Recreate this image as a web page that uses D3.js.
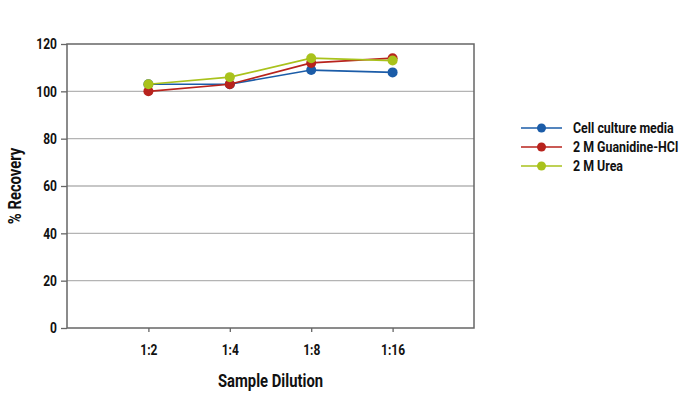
<html>
<script src='https://d3js.org/d3.v7.min.js'></script>
<style>
body {margin:0; background:#fff;}
text {font-family: Roboto, "DejaVu Sans", sans-serif; font-weight: bold; fill: #111;}
</style>
<body onload='init()'>
<svg width=694 height=395></svg>
<script>
var dilutions = ["1:2", "1:4", "1:8", "1:16"];
var cellMedia = [103, 103, 109, 108];
var guanidine = [100, 103, 112, 114];
var urea = [103, 106, 114, 113];
var yTicks = [0, 20, 40, 60, 80, 100, 120];

// squeeze text horizontally to mimic a condensed face
var squeeze = 0.8;
function condense(sel) {
	sel.each(function() {
		var t = d3.select(this);
		var x = +(t.attr("x") || 0);
		t.attr("x", x / squeeze).attr("transform", (t.attr("transform") || "") + " scale(" + squeeze + ",1)");
	});
}

function init() {
	var svg = d3.select("svg");
	var left = 67, right = 474, top = 44, bottom = 328;

	var series = [
		{name: "Cell culture media", values: cellMedia, color: "#1b5ca8"},
		{name: "2 M Guanidine-HCl", values: guanidine, color: "#b8231d"},
		{name: "2 M Urea", values: urea, color: "#a9c21c"}
	];

	var x = d3.scalePoint().domain(dilutions).range([left, right]).padding(1);
	var y = d3.scaleLinear().domain([0, 120]).range([bottom, top]);

	// gridlines
	svg.append("g").selectAll("line").data(yTicks.slice(1, -1)).enter().append("line")
		.attr("x1", left).attr("x2", right)
		.attr("y1", function(d){return y(d);}).attr("y2", function(d){return y(d);})
		.attr("stroke", "#b4b4b4").attr("stroke-width", 1.3);

	// frame
	svg.append("rect").attr("x", left).attr("y", top).attr("width", right - left).attr("height", bottom - top)
		.attr("fill", "none").attr("stroke", "#666").attr("stroke-width", 1.5);

	var yAxis = svg.append("g").attr("transform", "translate(" + left + ",0)")
		.call(d3.axisLeft(y).tickValues(yTicks).tickSize(6).tickPadding(4));
	yAxis.select(".domain").remove();
	yAxis.selectAll("line").attr("stroke", "#666").attr("stroke-width", 1.3);
	yAxis.selectAll("text").style("font-size", "15px").style("font-family", null).call(condense);

	var xAxis = svg.append("g").attr("transform", "translate(0," + bottom + ")")
		.call(d3.axisBottom(x).tickSize(4).tickPadding(12));
	xAxis.select(".domain").remove();
	xAxis.selectAll("line").attr("stroke", "#666").attr("stroke-width", 1.3);
	xAxis.selectAll("text").style("font-size", "15px").style("font-family", null).call(condense);

	var line = d3.line().x(function(d, i){return x(dilutions[i]);}).y(function(d){return y(d);});

	series.forEach(function(s) {
		svg.append("path").datum(s.values).attr("d", line)
			.attr("fill", "none").attr("stroke", s.color).attr("stroke-width", 1.7);
		svg.append("g").selectAll("circle").data(s.values).enter().append("circle")
			.attr("cx", function(d, i){return x(dilutions[i]);})
			.attr("cy", function(d){return y(d);})
			.attr("r", 5).attr("fill", s.color);
	});

	// legend
	var lg = svg.append("g").attr("transform", "translate(521,128)");
	series.forEach(function(s, i) {
		var g = lg.append("g").attr("transform", "translate(0," + (i * 19) + ")");
		g.append("line").attr("x1", 0).attr("x2", 41).attr("stroke", s.color).attr("stroke-width", 1.7);
		g.append("circle").attr("cx", 20.5).attr("r", 4.5).attr("fill", s.color);
		g.append("text").attr("x", 52).attr("dy", "0.35em").text(s.name).style("font-size", "15.5px").call(condense);
	});

	svg.append("text").attr("transform", "translate(21," + ((top + bottom) / 2) + ") rotate(-90)")
		.attr("text-anchor", "middle").text("% Recovery").style("font-size", "18.5px").call(condense);
	svg.append("text").attr("transform", "translate(" + ((left + right) / 2) + ",387)")
		.attr("text-anchor", "middle").text("Sample Dilution").style("font-size", "18.5px").call(condense);
}
</script>
</body>
</html>
